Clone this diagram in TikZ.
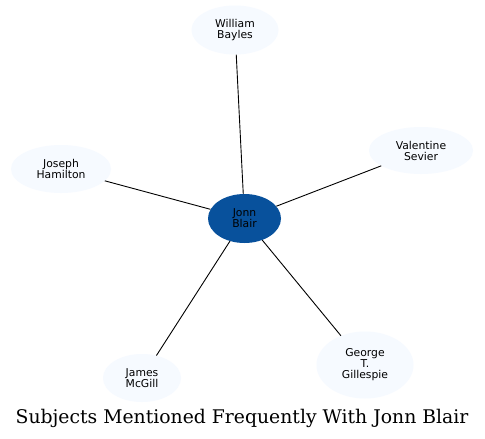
\documentclass[tikz,border=0pt]{standalone}
\usepackage{fontspec}
\setmainfont{DejaVu Sans}
\newfontfamily\titlefont{DejaVu Serif}
\usetikzlibrary{shapes.geometric}
\definecolor{centerblue}{HTML}{08519C}
\definecolor{outerfill}{HTML}{F6FAFF}
\tikzset{
  person/.style={ellipse, fill=outerfill, draw=none, align=center, inner sep=0pt,
    font=\fontsize{10.8}{11}\selectfont, text=black},
  hub/.style={ellipse, fill=centerblue, draw=none, align=center, inner sep=0pt,
    font=\fontsize{10.8}{11}\selectfont, text=black},
  link/.style={draw=black, line width=0.9pt}
}
\begin{document}
\begin{tikzpicture}[x=1pt,y=-1pt]
\useasboundingbox (0,0) rectangle (485,439);
\fill[white] (0,0) rectangle (485,439);
\node[hub, minimum width=73pt, minimum height=49pt] (jb) at (244.5,218.5) {Jonn\\Blair};
\node[person, minimum width=87pt, minimum height=49pt] (wb) at (235,30) {William\\Bayles};
\node[person, minimum width=104pt, minimum height=47pt] (vs) at (421,150.5) {Valentine\\Sevier};
\node[person, minimum width=100pt, minimum height=48pt] (jh) at (61,169) {Joseph\\Hamilton};
\node[person, minimum width=78pt, minimum height=48pt] (jm) at (142,378) {James\\McGill};
\node[person, minimum width=97pt, minimum height=67pt] (gg) at (365,365) {George\\T.\\Gillespie};
\draw[link] (jb) -- (wb);
\draw[link] (jb) -- (vs);
\draw[link] (jb) -- (jh);
\draw[link] (jb) -- (jm);
\draw[link] (jb) -- (gg);
\node[font=\titlefont\fontsize{18.8}{20}\selectfont, inner sep=0pt] (title) at (242,418.5) {Subjects Mentioned Frequently With Jonn Blair};
\end{tikzpicture}
\end{document}
